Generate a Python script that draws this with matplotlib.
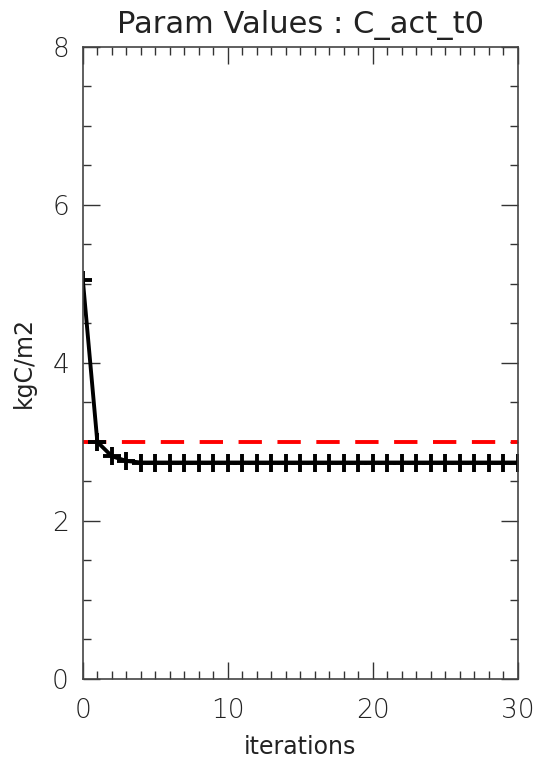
import matplotlib
matplotlib.use("Agg")
import matplotlib.pyplot as plt
import numpy as np
from matplotlib.ticker import MultipleLocator

# iteration values
iterations = np.arange(0, 31)
param_values = [5.05, 3.00, 2.82, 2.76, 2.74, 2.74, 2.74, 2.74, 2.74, 2.74,
                2.74, 2.74, 2.74, 2.74, 2.74, 2.74, 2.74, 2.74, 2.74, 2.74,
                2.74, 2.74, 2.74, 2.74, 2.74, 2.74, 2.74, 2.74, 2.74, 2.74,
                2.74]
true_value = 3.0

plt.rcParams['font.family'] = ['DejaVu Sans']
plt.rcParams['font.weight'] = 'light'

fig = plt.figure(figsize=(5.45, 7.6), dpi=100)
ax = fig.add_axes([0.152, 0.1066, 0.798, 0.8316])

ax.plot([0, 30], [true_value, true_value], color="red", lw=2.8, ls=(0, (6, 4)))
ax.plot(iterations, param_values, color="black", lw=2.8, marker="+",
        markersize=13, markeredgewidth=2.8)

ax.set_xlim(0, 30)
ax.set_ylim(0, 8)
ax.xaxis.set_major_locator(MultipleLocator(10))
ax.xaxis.set_minor_locator(MultipleLocator(1))
ax.yaxis.set_major_locator(MultipleLocator(2))
ax.yaxis.set_minor_locator(MultipleLocator(0.5))
ax.tick_params(which="both", direction="in", top=True, right=True,
               labelsize=19, color="#333333", labelcolor="#222222")
ax.tick_params(axis="x", pad=14)
ax.tick_params(axis="y", pad=10)
ax.tick_params(which="major", length=12, width=1)
ax.tick_params(which="minor", length=6, width=1)
for s in ax.spines.values():
    s.set_color("#444444")
    s.set_linewidth(1.2)

ax.set_title("Param Values : C_act_t0", fontsize=22, pad=10, color="#222222")
ax.set_xlabel("iterations", fontsize=17, color="#222222", labelpad=8)
ax.set_ylabel("kgC/m2", fontsize=17, color="#222222", labelpad=12)

fig.savefig("out.png", dpi=100)
